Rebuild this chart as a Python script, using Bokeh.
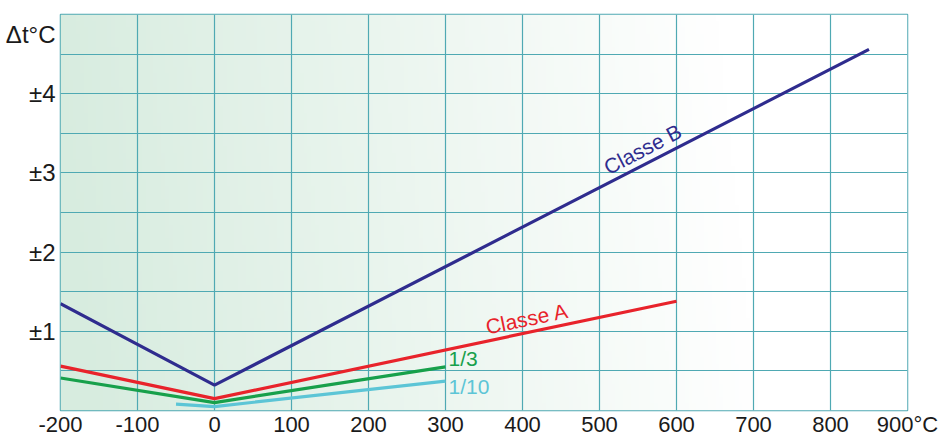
import numpy as np
from bokeh.plotting import figure
from bokeh.models import Range1d, FixedTicker, Label
from bokeh.embed import file_html
from bokeh.resources import INLINE

# ---- data ----
class_b_x = [-200, 0, 850]
class_b_y = [1.35, 0.32, 4.56]
class_a_x = [-200, 0, 600]
class_a_y = [0.56, 0.15, 1.38]
third_x = [-200, 0, 300]
third_y = [0.41, 0.10, 0.55]
tenth_x = [-50, 0, 300]
tenth_y = [0.08, 0.05, 0.37]

x_ticks = [-200, -100, 0, 100, 200, 300, 400, 500, 600, 700, 800, 900]
x_tick_labels = ["-200", "-100", "0", "100", "200", "300", "400", "500", "600", "700", "800", "900°C"]
y_ticks = [1, 2, 3, 4, 4.75]
y_tick_labels = ["±1", "±2", "±3", "±4", "Δt°C"]
y_grid = [0.5, 1, 1.5, 2, 2.5, 3, 3.5, 4, 4.5]

FONT = "Liberation Sans"
GRID = "#4fa9b3"

p = figure(width=947, height=439, output_backend="svg", toolbar_location=None, title=None,
           x_range=Range1d(-200, 900), y_range=Range1d(0, 5),
           min_border_left=60, min_border_right=40, min_border_top=14, min_border_bottom=10)
p.background_fill_color = "white"
p.border_fill_color = "white"
p.outline_line_color = GRID
p.outline_line_width = 1.5

# background gradient (green on the left fading to white on the right)
H, W = 60, 220
xs = np.linspace(0, 1, W)[None, :]
ys = np.linspace(0, 1, H)[:, None]
f = np.clip(xs / 0.8 + 0.06 * ys - 0.03, 0, 1)
left = np.array([215, 236, 223], dtype=float)
r = (left[0] + (255 - left[0]) * f).astype(np.uint32)
g = (left[1] + (255 - left[1]) * f).astype(np.uint32)
b = (left[2] + (255 - left[2]) * f).astype(np.uint32)
img = ((255 << 24) | (b << 16) | (g << 8) | r).astype(np.uint32)
bg = p.image_rgba(image=[img], x=-200, y=0, dw=1100, dh=5)
bg.level = "underlay"

# grid
p.xgrid.ticker = FixedTicker(ticks=x_ticks)
p.ygrid.ticker = FixedTicker(ticks=y_grid)
for gr in (p.xgrid, p.ygrid):
    gr.grid_line_color = GRID
    gr.grid_line_width = 1.2
    gr.grid_line_alpha = 1.0
    gr.level = "underlay"

# axes
p.xaxis.ticker = FixedTicker(ticks=x_ticks)
p.xaxis.major_label_overrides = dict(zip(x_ticks, x_tick_labels))
p.yaxis.ticker = FixedTicker(ticks=y_ticks)
p.yaxis.major_label_overrides = dict(zip(y_ticks, y_tick_labels))
for ax in (p.xaxis, p.yaxis):
    ax.axis_line_color = None
    ax.major_tick_line_color = None
    ax.minor_tick_line_color = None
    ax.major_tick_out = 0
    ax.major_tick_in = 0
    ax.minor_tick_out = 0
    ax.minor_tick_in = 0
    ax.major_label_text_font = FONT
    ax.major_label_text_color = "#1a1a1a"
p.xaxis.major_label_text_font_size = "22px"
p.xaxis.major_label_standoff = 1
p.yaxis.major_label_text_font_size = "24px"
p.yaxis.major_label_standoff = 5

# lines
p.line(tenth_x, tenth_y, line_color="#5cc5d6", line_width=3.2)
p.line(third_x, third_y, line_color="#17a04b", line_width=3.2)
p.line(class_a_x, class_a_y, line_color="#e8232b", line_width=3.2)
p.line(class_b_x, class_b_y, line_color="#2f2c8e", line_width=3.2)

# annotations
p.add_layout(Label(x=556, y=3.30, text="Classe B", angle=27.5, angle_units="deg",
                   text_align="center", text_baseline="middle", text_font=FONT,
                   text_font_size="21px", text_color="#2f2c8e"))
p.add_layout(Label(x=406, y=1.16, text="Classe A", angle=11.8, angle_units="deg",
                   text_align="center", text_baseline="middle", text_font=FONT,
                   text_font_size="21px", text_color="#e8232b"))
p.add_layout(Label(x=304, y=0.66, text="1/3", text_align="left",
                   text_baseline="middle", text_font=FONT, text_font_size="21px",
                   text_color="#17a04b"))
p.add_layout(Label(x=304, y=0.30, text="1/10", text_align="left",
                   text_baseline="middle", text_font=FONT, text_font_size="21px",
                   text_color="#5cc5d6"))

open("out.html", "w").write(file_html(p, INLINE))
